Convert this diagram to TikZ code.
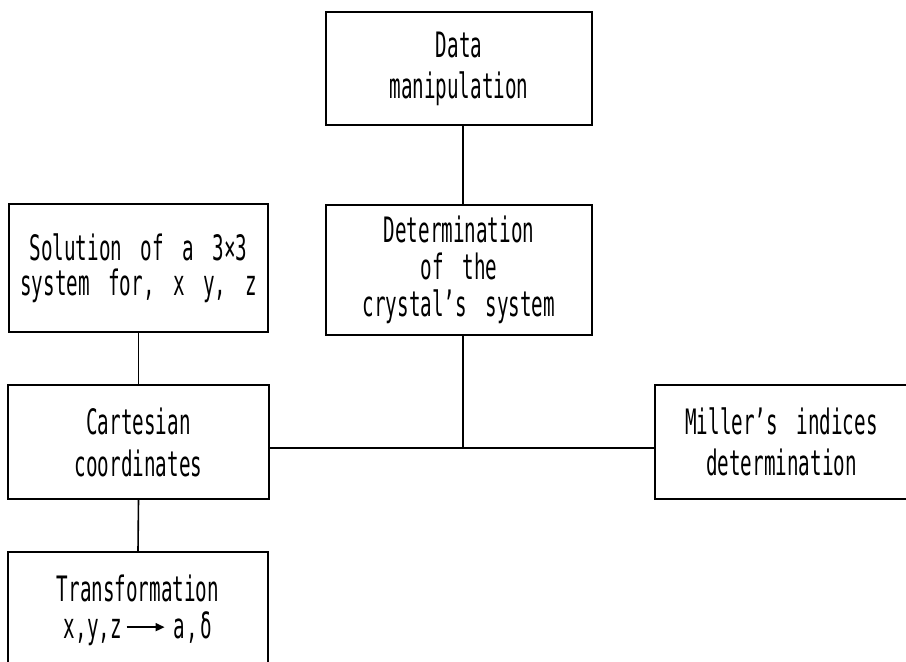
\documentclass[tikz,border=0pt]{standalone}
\usepackage{fontspec}
\usetikzlibrary{arrows.meta}
\newfontfamily\plotfont[FakeStretch=0.55,WordSpace=1.6]{DejaVu Sans Mono}
\newcommand\transarrow{\tikz[baseline=-11pt]\draw[line width=1.6pt,-{Triangle[length=9pt,width=8pt]}] (0pt,0pt) -- (38pt,0pt);}
\tikzset{
  box/.style={draw, line width=1.6pt, align=center, inner sep=0pt,
    font=\plotfont\fontsize{35}{#1}\selectfont},
  box/.default=38,
  link/.style={line width=1.6pt},
}
\begin{document}
\begin{tikzpicture}[x=1pt,y=-1pt]
\path[use as bounding box, clip] (0,0) rectangle (906,662);
\fill[white] (0,0) rectangle (906,662);

\node[box=41, minimum width=266pt, minimum height=113pt] (data) at (459,68.5) {Data\\manipulation};
\node[box=37, minimum width=266pt, minimum height=130pt] (det) at (459,270) {Determination\\of the\\crystal’s system};
\node[box=35, minimum width=259pt, minimum height=128pt] (sol) at (138.5,268) {Solution of a 3×3\\system for, x y, z};
\node[box=42, minimum width=261pt, minimum height=114pt] (cart) at (138.5,442) {Cartesian\\coordinates};
\node[box=41, minimum width=253pt, minimum height=114pt] (miller) at (781.5,442) {Miller’s indices\\determination};
\node[box=37, minimum width=260pt, minimum height=116pt] (trans) at (138,610) {Transformation\\x,y,z\hspace{4pt}\transarrow\hspace{8pt}a\hspace{2pt},\hspace{2pt}δ};

\coordinate (j) at (463,448);
\draw[link] (data.south -| j) -- (det.north -| j);
\draw[link] (det.south -| j) -- (j);
\draw[link] (cart.east |- j) -- (miller.west |- j);
\draw[link] (sol.south) -- (cart.north);
\draw[link] (cart.south) -- (trans.north);
\end{tikzpicture}
\end{document}
